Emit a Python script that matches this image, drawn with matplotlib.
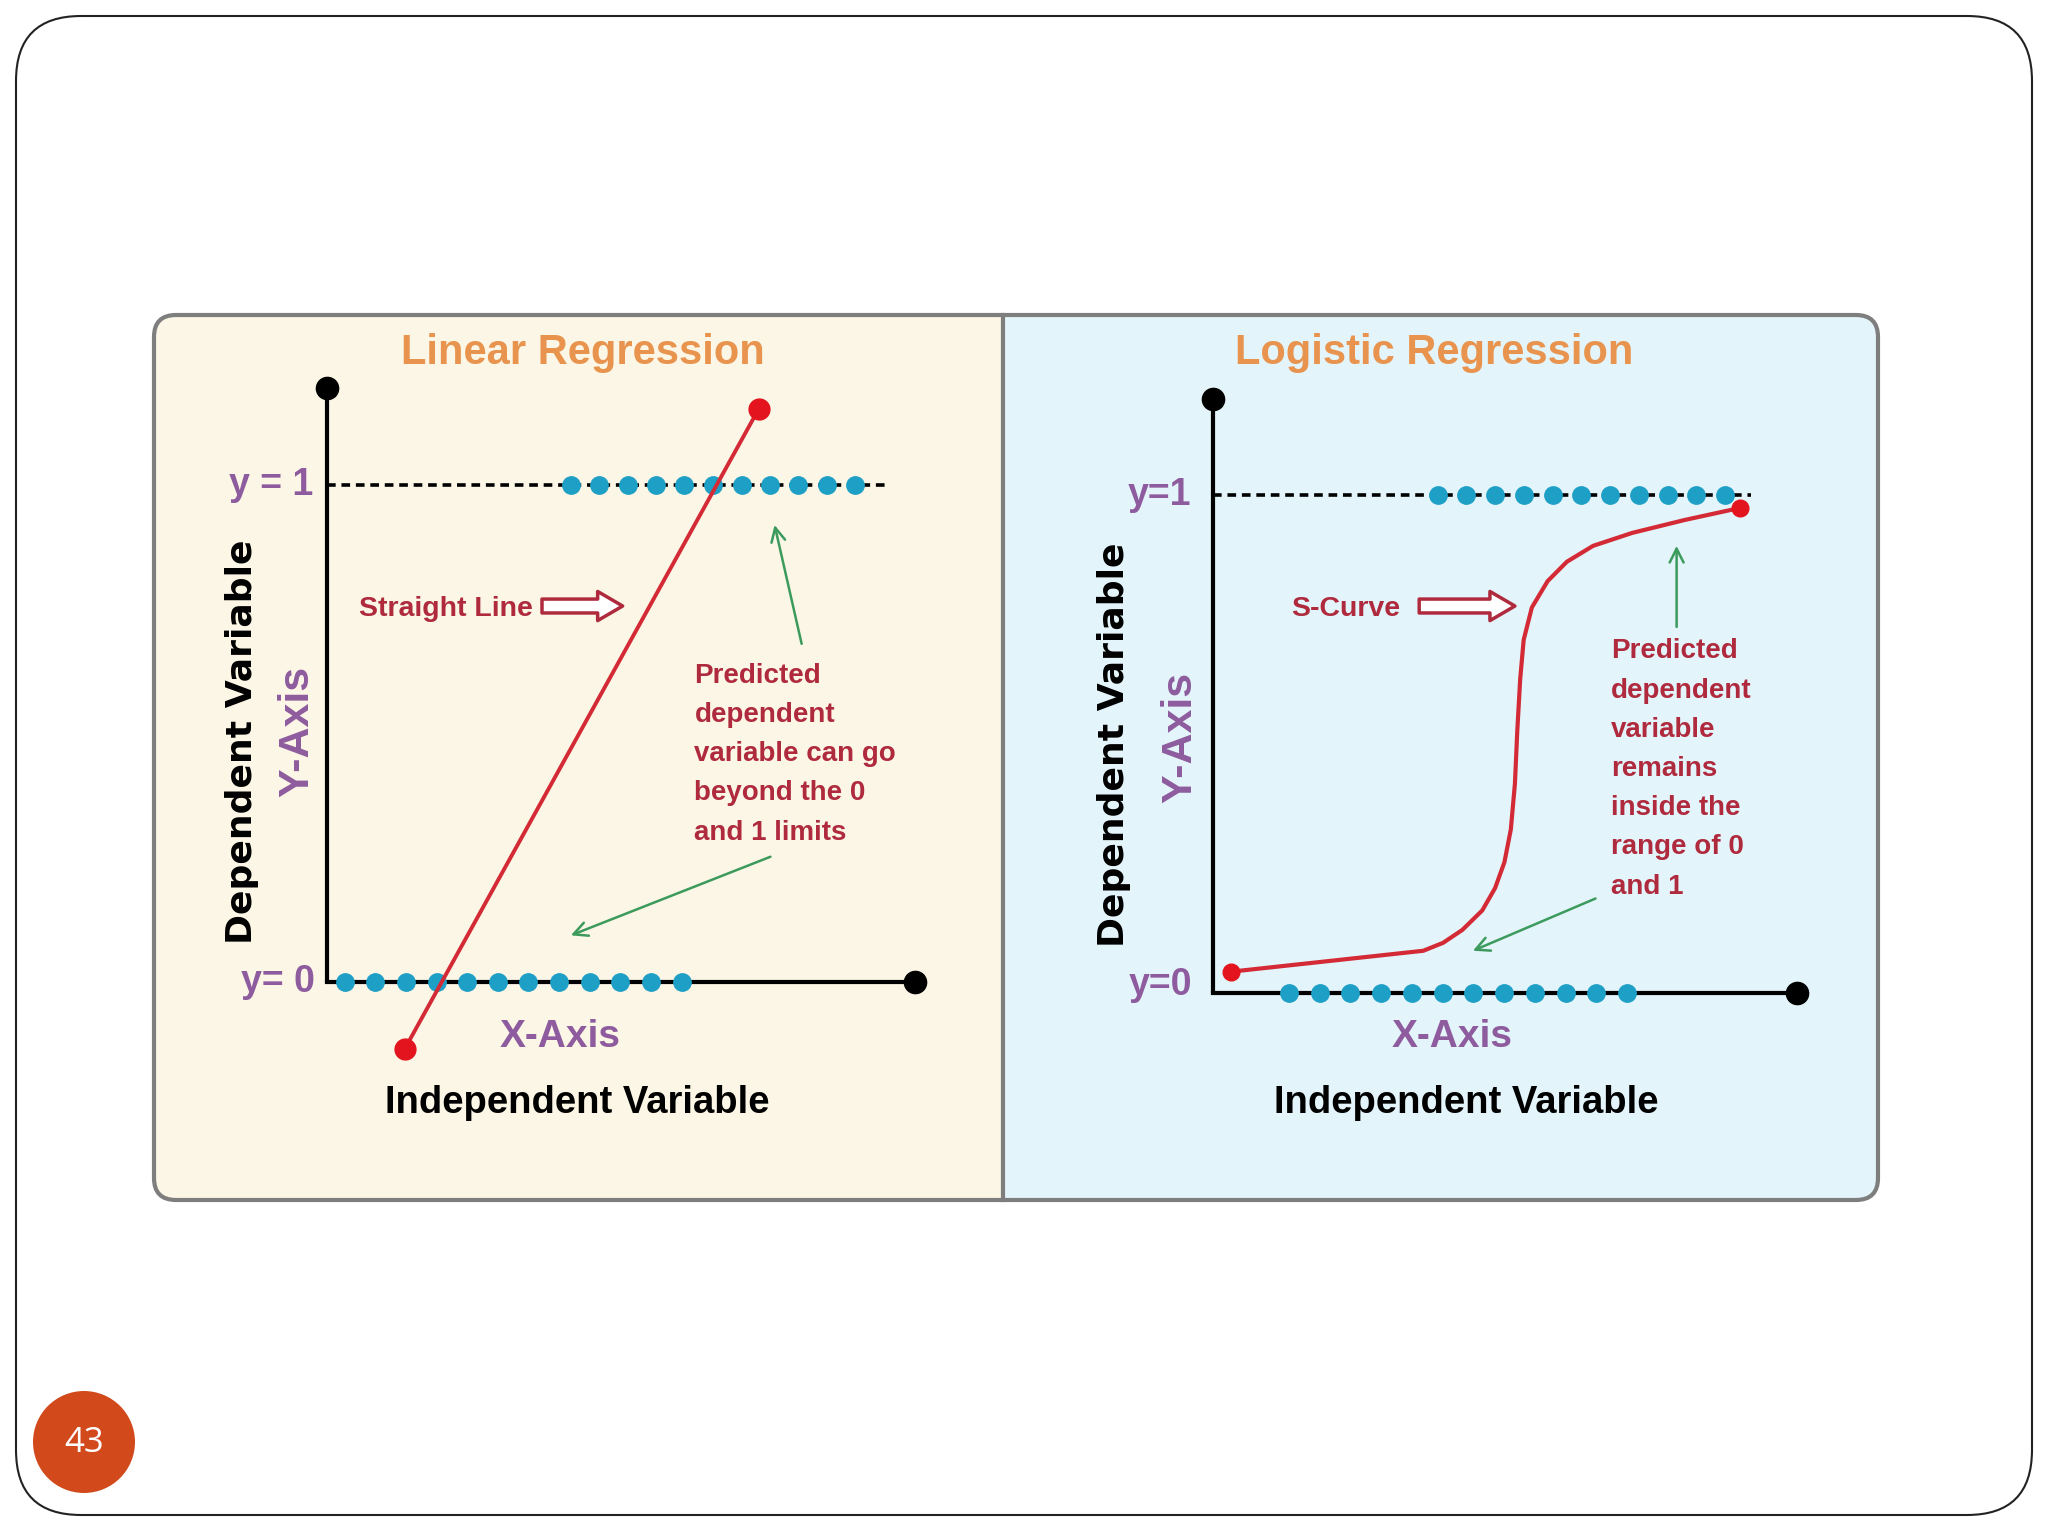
import matplotlib
matplotlib.use("Agg")
import matplotlib.pyplot as plt
from matplotlib.patches import FancyBboxPatch, Rectangle, Circle

# ---- data (panel units: y=0 and y=1 are the two class levels) ----
lin_line_x = [1.33, 7.34]
lin_line_y = [-0.134, 1.152]
lin_dots_top = [4.15, 4.63, 5.12, 5.60, 6.08, 6.57, 7.05, 7.53, 8.01, 8.50, 8.98]
lin_dots_bottom = [0.31, 0.83, 1.35, 1.87, 2.39, 2.91, 3.43, 3.95, 4.47, 4.99, 5.51, 6.03]

log_curve_x = [0.31, 3.60, 3.94, 4.27, 4.61, 4.83, 4.99, 5.10, 5.17, 5.21, 5.26,
               5.32, 5.46, 5.73, 6.06, 6.51, 7.18, 8.08, 9.02]
log_curve_y = [0.042, 0.084, 0.100, 0.126, 0.165, 0.210, 0.262, 0.328, 0.420, 0.525,
               0.630, 0.709, 0.774, 0.827, 0.866, 0.898, 0.924, 0.950, 0.974]
log_dots_top = [3.85, 4.34, 4.83, 5.33, 5.82, 6.31, 6.80, 7.29, 7.79, 8.28, 8.77]
log_dots_bottom = [1.30, 1.83, 2.35, 2.88, 3.40, 3.93, 4.46, 4.98, 5.51, 6.04, 6.56, 7.09]

ORANGE = "#E8944E"
PURPLE = "#8E5C9E"
DARKRED = "#B02A3E"
RED = "#D42A36"
BLUE = "#1E9FC6"
GREEN = "#3C9A5C"
CREAM = "#FBF6E5"
LIGHTBLUE = "#E3F4FA"

NARROW = ["Liberation Sans Narrow", "Liberation Sans", "DejaVu Sans"]
WIDE = ["DejaVu Sans"]

fig = plt.figure(figsize=(20.48, 15.36), dpi=100)
fig.patch.set_facecolor("white")

# background in pixel coordinates
bg = fig.add_axes([0, 0, 1, 1])
bg.set_xlim(0, 2048)
bg.set_ylim(1536, 0)
bg.axis("off")

bg.add_patch(FancyBboxPatch((16, 16), 2016, 1499, boxstyle="round,pad=0,rounding_size=65",
                            fc="white", ec="#222222", lw=1.5))
# panel fills
bg.add_patch(FancyBboxPatch((154, 315), 1724, 885, boxstyle="round,pad=0,rounding_size=22",
                            fc=LIGHTBLUE, ec="none"))
bg.add_patch(FancyBboxPatch((154, 315), 900, 885, boxstyle="round,pad=0,rounding_size=22",
                            fc=CREAM, ec="none"))
bg.add_patch(Rectangle((1003, 317), 60, 881, fc=LIGHTBLUE, ec="none"))
bg.add_patch(FancyBboxPatch((154, 315), 1724, 885, boxstyle="round,pad=0,rounding_size=22",
                            fc="none", ec="#7E7E7E", lw=3))
bg.plot([1003, 1003], [315, 1200], color="#7E7E7E", lw=3)

# page number
bg.add_patch(Circle((84, 1442), 51, fc="#D2491C", ec="none"))
bg.text(84, 1443, "43", color="white", fontsize=25, ha="center", va="center",
        family=["Open Sans", "DejaVu Sans"])


def panel(rect, xlim, ylim):
    ax = fig.add_axes(rect)
    ax.set_xlim(*xlim)
    ax.set_ylim(*ylim)
    ax.axis("off")
    return ax


def axes_frame(ax, ytop, dash_end):
    ax.plot([0, 0], [0, ytop], color="black", lw=3, solid_capstyle="butt", zorder=2)
    ax.plot([0, 10], [0, 0], color="black", lw=3, zorder=2)
    ax.plot([0], [ytop], "o", color="black", ms=16, zorder=3)
    ax.plot([10], [0], "o", color="black", ms=16, zorder=3)
    ax.plot([0, dash_end], [1, 1], color="black", lw=2.6, dashes=(2.4, 1.6), zorder=2)


def block_arrow(ax, x0, x1, y):
    ax.annotate("", xy=(x1, y), xytext=(x0, y),
                arrowprops=dict(arrowstyle="simple,head_length=0.9,head_width=1.05,tail_width=0.5",
                                fc="white", ec=DARKRED, lw=2.5, shrinkA=0, shrinkB=0,
                                mutation_scale=20))


def green_arrow(ax, tail, head):
    ax.annotate("", xy=head, xytext=tail,
                arrowprops=dict(arrowstyle="->,head_length=0.5,head_width=0.25",
                                color=GREEN, lw=1.8, shrinkA=0, shrinkB=0,
                                mutation_scale=20))


# ---- left panel: linear regression ----
axl = panel([154 / 2048, 336 / 1536, 849 / 2048, 885 / 1536], (-2.93, 11.49), (-0.438, 1.341))
axes_frame(axl, 1.194, 9.49)
axl.plot(lin_dots_top, [1] * len(lin_dots_top), "o", color=BLUE, ms=12.5, zorder=3)
axl.plot(lin_dots_bottom, [0] * len(lin_dots_bottom), "o", color=BLUE, ms=12.5, zorder=3)
axl.plot(lin_line_x, lin_line_y, color=RED, lw=2.8, zorder=4)
axl.plot(lin_line_x, lin_line_y, "o", color="#E3141E", ms=15, zorder=5)

axl.text(4.35, 1.265, "Linear Regression", color=ORANGE, fontsize=30, fontweight="bold",
         ha="center", va="center", family=NARROW)
axl.text(-0.22, 1.0, "y = 1", color=PURPLE, fontsize=27, fontweight="bold",
         ha="right", va="center", family=NARROW)
axl.text(-0.2, 0.0, "y= 0", color=PURPLE, fontsize=27, fontweight="bold",
         ha="right", va="center", family=NARROW)
axl.text(-0.49, 0.504, "Y-Axis", color=PURPLE, fontsize=31, fontweight="bold", rotation=90,
         ha="center", va="center", family=NARROW)
axl.text(-1.44, 0.483, "Dependent Variable", color="black", fontsize=26, fontweight="bold",
         rotation=90, ha="center", va="center", family=WIDE)
axl.text(3.97, -0.110, "X-Axis", color=PURPLE, fontsize=28, fontweight="bold",
         ha="center", va="center", family=NARROW)
axl.text(4.26, -0.244, "Independent Variable", color="black", fontsize=27.5, fontweight="bold",
         ha="center", va="center", family=NARROW)
axl.text(0.55, 0.751, "Straight Line", color=DARKRED, fontsize=20.5, fontweight="bold",
         ha="left", va="center", family=NARROW)
block_arrow(axl, 3.66, 5.03, 0.756)
axl.text(6.25, 0.642, "Predicted\ndependent\nvariable can go\nbeyond the 0\nand 1 limits",
         color=DARKRED, fontsize=20, fontweight="bold", ha="left", va="top",
         linespacing=1.66, family=NARROW)
green_arrow(axl, (8.07, 0.680), (7.61, 0.919))
green_arrow(axl, (7.54, 0.252), (4.15, 0.094))

# ---- right panel: logistic regression ----
axr = panel([1003 / 2048, 336 / 1536, 875 / 2048, 885 / 1536], (-3.60, 11.39), (-0.417, 1.362))
axes_frame(axr, 1.194, 9.22)
axr.plot(log_dots_top, [1] * len(log_dots_top), "o", color=BLUE, ms=12.5, zorder=3)
axr.plot(log_dots_bottom, [0] * len(log_dots_bottom), "o", color=BLUE, ms=12.5, zorder=3)
axr.plot(log_curve_x, log_curve_y, color=RED, lw=3, zorder=4)
axr.plot([log_curve_x[0], log_curve_x[-1]], [log_curve_y[0], log_curve_y[-1]], "o",
         color="#E3141E", ms=12, zorder=5)

axr.text(3.78, 1.286, "Logistic Regression", color=ORANGE, fontsize=30, fontweight="bold",
         ha="center", va="center", family=NARROW)
axr.text(-0.38, 1.0, "y=1", color=PURPLE, fontsize=27, fontweight="bold",
         ha="right", va="center", family=NARROW)
axr.text(-0.36, 0.016, "y=0", color=PURPLE, fontsize=27, fontweight="bold",
         ha="right", va="center", family=NARROW)
axr.text(-0.56, 0.512, "Y-Axis", color=PURPLE, fontsize=31, fontweight="bold", rotation=90,
         ha="center", va="center", family=NARROW)
axr.text(-1.70, 0.499, "Dependent Variable", color="black", fontsize=26, fontweight="bold",
         rotation=90, ha="center", va="center", family=WIDE)
axr.text(4.09, -0.089, "X-Axis", color=PURPLE, fontsize=28, fontweight="bold",
         ha="center", va="center", family=NARROW)
axr.text(4.34, -0.223, "Independent Variable", color="black", fontsize=27.5, fontweight="bold",
         ha="center", va="center", family=NARROW)
axr.text(1.34, 0.772, "S-Curve", color=DARKRED, fontsize=20.5, fontweight="bold",
         ha="left", va="center", family=NARROW)
block_arrow(axr, 3.53, 5.17, 0.777)
axr.text(6.82, 0.712, "Predicted\ndependent\nvariable\nremains\ninside the\nrange of 0\nand 1",
         color=DARKRED, fontsize=20, fontweight="bold", ha="left", va="top",
         linespacing=1.66, family=NARROW)
green_arrow(axr, (7.94, 0.735), (7.94, 0.898))
green_arrow(axr, (6.55, 0.189), (4.45, 0.084))

fig.savefig("out.png", dpi=100)
